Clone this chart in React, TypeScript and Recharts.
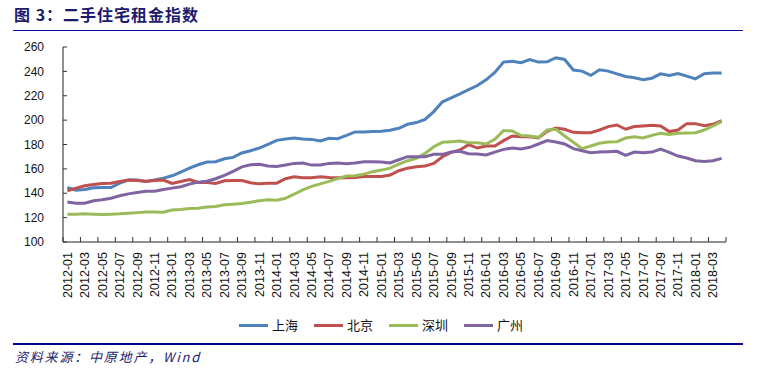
import React from 'react';
import { LineChart, Line, XAxis, YAxis } from 'recharts';

const months = [
  '2012-01', '2012-02', '2012-03', '2012-04', '2012-05', '2012-06', '2012-07', '2012-08', '2012-09', '2012-10', '2012-11', '2012-12',
  '2013-01', '2013-02', '2013-03', '2013-04', '2013-05', '2013-06', '2013-07', '2013-08', '2013-09', '2013-10', '2013-11', '2013-12',
  '2014-01', '2014-02', '2014-03', '2014-04', '2014-05', '2014-06', '2014-07', '2014-08', '2014-09', '2014-10', '2014-11', '2014-12',
  '2015-01', '2015-02', '2015-03', '2015-04', '2015-05', '2015-06', '2015-07', '2015-08', '2015-09', '2015-10', '2015-11', '2015-12',
  '2016-01', '2016-02', '2016-03', '2016-04', '2016-05', '2016-06', '2016-07', '2016-08', '2016-09', '2016-10', '2016-11', '2016-12',
  '2017-01', '2017-02', '2017-03', '2017-04', '2017-05', '2017-06', '2017-07', '2017-08', '2017-09', '2017-10', '2017-11', '2017-12',
  '2018-01', '2018-02', '2018-03', '2018-04',
];

const shanghai = [
  144.7, 142.5, 143.1, 144.5, 144.7, 144.7, 148.3, 150.8, 150.8, 149.7, 150.8, 152.4,
  154.3, 157.4, 160.6, 163.4, 165.6, 165.9, 168.3, 169.4, 173.0, 174.9, 177.1, 180.1,
  183.4, 184.5, 185.3, 184.5, 184.2, 182.9, 185.1, 184.8, 187.5, 190.3, 190.3, 190.6,
  190.8, 191.7, 193.3, 196.6, 198.0, 200.6, 207.0, 215.0, 218.3, 221.6, 225.1, 228.4,
  233.1, 239.1, 247.6, 248.2, 247.1, 249.6, 247.6, 247.9, 251.2, 249.8, 241.1, 240.2,
  236.7, 241.3, 240.2, 238.0, 235.8, 234.7, 233.1, 234.4, 238.0, 236.7, 238.3, 236.1,
  233.9, 238.0, 238.6, 238.6,
];

const beijing = [
  142.0, 144.2, 146.1, 147.2, 148.0, 148.3, 149.7, 150.8, 150.5, 149.9, 150.5, 150.8,
  148.0, 149.7, 151.3, 148.8, 148.8, 148.0, 150.2, 150.5, 150.5, 148.6, 147.7, 148.3,
  148.3, 151.9, 153.5, 152.7, 152.7, 153.5, 153.0, 152.7, 152.7, 153.0, 153.8, 153.8,
  153.8, 154.9, 158.5, 160.6, 161.7, 162.3, 164.5, 170.0, 173.5, 175.5, 179.9, 177.1,
  178.8, 178.8, 183.2, 187.0, 186.4, 186.4, 185.3, 190.8, 193.6, 192.5, 190.0, 189.7,
  189.7, 191.9, 194.7, 196.0, 192.5, 194.7, 195.2, 195.8, 195.2, 190.6, 191.9, 197.1,
  197.1, 195.5, 196.6, 199.6,
];

const shenzhen = [
  122.8, 122.8, 123.1, 122.8, 122.5, 122.8, 123.1, 123.6, 124.1, 124.7, 124.7, 124.4,
  126.3, 126.6, 127.4, 127.7, 128.8, 129.1, 130.5, 131.0, 131.6, 132.7, 133.8, 134.6,
  134.3, 135.9, 139.2, 142.8, 145.6, 147.7, 149.7, 152.1, 154.1, 154.3, 155.7, 157.7,
  159.0, 160.6, 163.9, 166.7, 168.6, 172.7, 178.2, 181.8, 182.3, 182.9, 181.5, 181.5,
  180.4, 184.2, 191.4, 191.1, 187.3, 187.0, 185.9, 191.9, 192.5, 187.0, 181.8, 176.6,
  178.8, 181.0, 182.1, 182.3, 185.3, 186.4, 185.3, 187.5, 189.2, 188.3, 189.2, 189.5,
  189.7, 191.9, 195.2, 198.8,
];

const guangzhou = [
  132.9, 131.8, 131.8, 133.8, 134.6, 135.9, 137.9, 139.5, 140.6, 141.7, 141.7, 143.1,
  144.2, 145.3, 147.5, 149.1, 149.9, 151.9, 154.6, 157.9, 161.7, 163.4, 163.7, 162.3,
  162.0, 163.1, 164.5, 164.8, 163.1, 163.1, 164.5, 164.8, 164.2, 164.8, 165.9, 165.8,
  165.6, 164.8, 167.5, 170.0, 170.0, 170.0, 171.9, 171.9, 173.8, 174.4, 172.4, 172.2,
  171.4, 173.8, 176.0, 177.1, 176.3, 177.7, 180.4, 183.2, 182.1, 180.4, 176.6, 174.9,
  173.3, 173.8, 174.1, 174.4, 171.1, 173.8, 173.3, 173.8, 176.3, 173.5, 170.5, 168.9,
  166.7, 166.1, 166.7, 168.6,
];

const yTicks = [100, 120, 140, 160, 180, 200, 220, 240, 260];

const series = [
  { key: 'shanghai', name: '上海', color: '#4F81BD' },
  { key: 'beijing', name: '北京', color: '#C0504D' },
  { key: 'shenzhen', name: '深圳', color: '#9BBB59' },
  { key: 'guangzhou', name: '广州', color: '#8064A2' },
];

const data = months.map((m, i) => ({
  x: i + 0.5,
  month: m,
  shanghai: shanghai[i],
  beijing: beijing[i],
  shenzhen: shenzhen[i],
  guangzhou: guangzhou[i],
}));

// tick marks sit on month boundaries, every two months
const xTicks = months.map((_, i) => i).filter((i) => i % 2 === 0).concat(months.length);

const W = 757;
const H = 372;
const PLOT_LEFT = 63;
const PLOT_RIGHT = 726;
const PLOT_TOP = 47;
const PLOT_BOTTOM = 242;
const X_AXIS_H = 60;
const MONTH_W = (PLOT_RIGHT - PLOT_LEFT) / months.length;
const FONT = "Arial, 'Liberation Sans', sans-serif";
const CJK = "'Noto Sans CJK SC', sans-serif";
const NAVY = '#1b1b6e';

function XTick({ x, y, payload }: any) {
  const label = months[payload.value];
  return (
    <g>
      <line x1={x} y1={y} x2={x} y2={y - 5} stroke="#333" strokeWidth={1} />
      {label && (
        <text
          transform={`translate(${x + MONTH_W / 2},${y + 10}) rotate(-90)`}
          textAnchor="end"
          dy="0.35em"
          fontSize={12.5}
          fontFamily={FONT}
          fill="#111"
        >
          {label}
        </text>
      )}
    </g>
  );
}

function YTick({ x, y, payload }: any) {
  return (
    <g>
      <line x1={x} y1={y} x2={x + 4} y2={y} stroke="#333" strokeWidth={1} />
      <text x={x - 19} y={y} dy="0.35em" textAnchor="end" fontSize={12} fontFamily={FONT} fill="#111">
        {payload.value}
      </text>
    </g>
  );
}

export default function App() {
  return (
    <div style={{ position: 'absolute', left: 0, top: 0, width: W, height: H, background: '#fff' }}>
      <div
        style={{
          position: 'absolute',
          left: 14,
          top: 4,
          fontFamily: CJK,
          fontWeight: 'bold',
          fontSize: 16,
          color: NAVY,
          lineHeight: '20px',
          letterSpacing: 1,
          whiteSpace: 'nowrap',
        }}
      >
        图 3：二手住宅租金指数
      </div>
      <div style={{ position: 'absolute', left: 13, top: 30, width: 730, height: 1, background: '#0a0a9a' }} />

      <div style={{ position: 'absolute', left: 0, top: 0 }}>
        <LineChart
          width={W}
          height={H}
          data={data}
          margin={{ top: PLOT_TOP, right: W - PLOT_RIGHT, bottom: H - PLOT_BOTTOM - X_AXIS_H, left: 0 }}
        >
          <XAxis
            dataKey="x"
            type="number"
            domain={[0, months.length]}
            ticks={xTicks}
            interval={0}
            height={X_AXIS_H}
            tickSize={0}
            tickMargin={0}
            tickLine={false}
            tick={<XTick />}
            axisLine={{ stroke: '#222', strokeWidth: 1 }}
          />
          <YAxis
            type="number"
            domain={[100, 260]}
            ticks={yTicks}
            interval={0}
            width={PLOT_LEFT}
            tickSize={0}
            tickMargin={0}
            tickLine={false}
            tick={<YTick />}
            axisLine={{ stroke: '#222', strokeWidth: 1 }}
          />
          {series.map((s) => (
            <Line
              key={s.key}
              type="linear"
              dataKey={s.key}
              name={s.name}
              stroke={s.color}
              strokeWidth={3}
              dot={false}
              activeDot={false}
              isAnimationActive={false}
            />
          ))}
        </LineChart>
      </div>

      <div
        style={{
          position: 'absolute',
          left: 239,
          top: 316,
          display: 'flex',
          alignItems: 'center',
          fontFamily: CJK,
          fontSize: 13,
          color: '#111',
          lineHeight: '18px',
        }}
      >
        {series.map((s) => (
          <div key={s.key} style={{ display: 'flex', alignItems: 'center', marginRight: 16 }}>
            <div style={{ width: 29, height: 3, background: s.color, marginRight: 4 }} />
            <span>{s.name}</span>
          </div>
        ))}
      </div>

      <div style={{ position: 'absolute', left: 13, top: 343, width: 730, height: 2, background: '#00008b' }} />
      <div
        style={{
          position: 'absolute',
          left: 15,
          top: 348,
          fontFamily: CJK,
          fontStyle: 'italic',
          fontSize: 13,
          color: NAVY,
          lineHeight: '18px',
          letterSpacing: 1.8,
          whiteSpace: 'nowrap',
        }}
      >
        资料来源：中原地产，Wind
      </div>
    </div>
  );
}
